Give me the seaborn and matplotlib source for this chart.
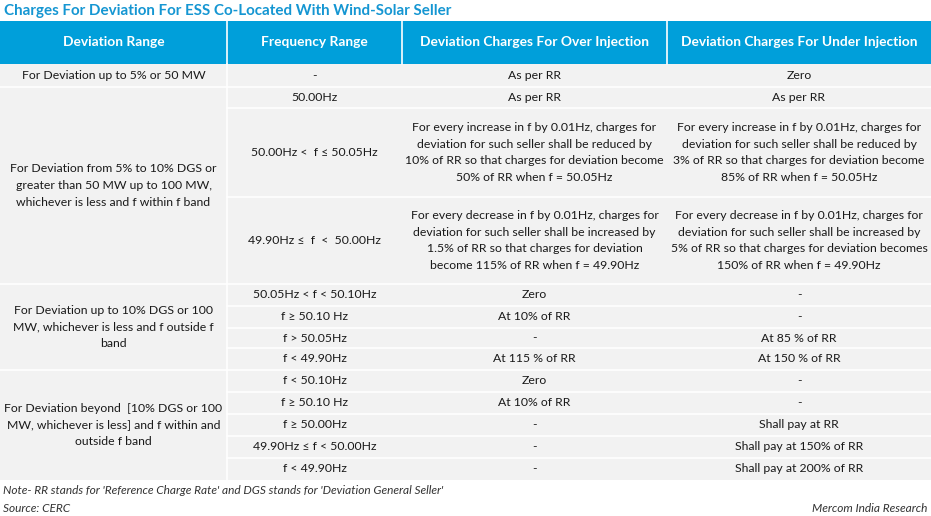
import matplotlib
matplotlib.use('Agg')
import matplotlib.pyplot as plt
import seaborn as sns
from matplotlib.patches import Rectangle
from matplotlib import font_manager

sns.set_theme(style='white')
plt.rcParams['font.family'] = ['Lato', 'DejaVu Sans']

title = 'Charges For Deviation For ESS Co-Located With Wind-Solar Seller'
headers = ['Deviation Range', 'Frequency Range',
           'Deviation Charges For Over Injection', 'Deviation Charges For Under Injection']

# deviation range groups: (label, number of sub rows)
dev_groups = [
    ('For Deviation up to 5% or 50 MW', 1),
    ('For Deviation from 5% to 10% DGS or\ngreater than 50 MW up to 100 MW,\nwhichever is less and f within f band', 3),
    ('For Deviation up to 10% DGS or 100\nMW, whichever is less and f outside f\nband', 4),
    ('For Deviation beyond  [10% DGS or 100\nMW, whichever is less] and f within and\noutside f band', 5),
]
freq_range = ['-', '50.00Hz', '50.00Hz <  f ≤ 50.05Hz', '49.90Hz ≤  f  <  50.00Hz',
              '50.05Hz < f < 50.10Hz', 'f ≥ 50.10 Hz', 'f > 50.05Hz', 'f < 49.90Hz',
              'f < 50.10Hz', 'f ≥ 50.10 Hz', 'f ≥ 50.00Hz', '49.90Hz ≤ f < 50.00Hz', 'f < 49.90Hz']
over_charges = ['As per RR', 'As per RR',
                'For every increase in f by 0.01Hz, charges for\ndeviation for such seller shall be reduced by\n10% of RR so that charges for deviation become\n50% of RR when f = 50.05Hz',
                'For every decrease in f by 0.01Hz, charges for\ndeviation for such seller shall be increased by\n1.5% of RR so that charges for deviation\nbecome 115% of RR when f = 49.90Hz',
                'Zero', 'At 10% of RR', '-', 'At 115 % of RR',
                'Zero', 'At 10% of RR', '-', '-', '-']
under_charges = ['Zero', 'As per RR',
                 'For every increase in f by 0.01Hz, charges for\ndeviation for such seller shall be reduced by\n3% of RR so that charges for deviation become\n85% of RR when f = 50.05Hz',
                 'For every decrease in f by 0.01Hz, charges for\ndeviation for such seller shall be increased by\n5% of RR so that charges for deviation becomes\n150% of RR when f = 49.90Hz',
                 '-', '-', 'At 85 % of RR', 'At 150 % of RR',
                 '-', '-', 'Shall pay at RR', 'Shall pay at 150% of RR', 'Shall pay at 200% of RR']
note = "Note- RR stands for 'Reference Charge Rate' and DGS stands for 'Deviation General Seller'"
source = 'Source: CERC'
credit = 'Mercom India Research'

# layout in pixels
W, H = 931, 516
col_x = [0, 227, 402, 667, 931]
head_top, head_bot = 21, 64
row_y = [64, 87, 108, 197, 284, 306, 328, 348, 370, 392, 414, 436, 458, 480]
blue = '#009FDA'
grey = '#F2F2F2'
txt = '#1a1a1a'
body_fs = 8.8
spacing = 1.62

# narrow italic for footer if available
names = {f.name for f in font_manager.fontManager.ttflist}
foot_family = ['Liberation Sans Narrow', 'Lato'] if 'Liberation Sans Narrow' in names else ['Lato']

fig = plt.figure(figsize=(W / 100, H / 100), dpi=100)
ax = fig.add_axes([0, 0, 1, 1])
ax.set_xlim(0, W)
ax.set_ylim(H, 0)
ax.axis('off')

ax.text(4, 10.5, title, color='#1596D2', fontsize=10.9, fontweight='bold', va='center', ha='left')

# header
ax.add_patch(Rectangle((0, head_top), W, head_bot - head_top, color=blue, lw=0))
for i, h in enumerate(headers):
    cx = (col_x[i] + col_x[i + 1]) / 2
    ax.text(cx, (head_top + head_bot) / 2, h, color='white', fontsize=9.9,
            fontweight='bold', ha='center', va='center')
    if i > 0:
        ax.plot([col_x[i]] * 2, [head_top, head_bot], color='white', lw=1.2)

# body
ax.add_patch(Rectangle((0, row_y[0]), W, row_y[-1] - row_y[0], color=grey, lw=0))
ax.plot([col_x[1]] * 2, [row_y[0], row_y[-1]], color='white', lw=1.2)

r = 0
for label, n in dev_groups:
    y0, y1 = row_y[r], row_y[r + n]
    ax.text((col_x[0] + col_x[1]) / 2, (y0 + y1) / 2, label, color=txt, fontsize=body_fs,
            ha='center', va='center', linespacing=spacing)
    if r + n < len(row_y) - 1:
        ax.plot([col_x[0], col_x[1]], [y1, y1], color='white', lw=1.2)
    r += n

for i in range(len(freq_range)):
    y0, y1 = row_y[i], row_y[i + 1]
    cy = (y0 + y1) / 2
    for j, vals in enumerate([freq_range, over_charges, under_charges], start=1):
        ax.text((col_x[j] + col_x[j + 1]) / 2, cy, vals[i], color=txt, fontsize=body_fs,
                ha='center', va='center', linespacing=spacing)
    if i < len(freq_range) - 1:
        ax.plot([col_x[1], W], [y1, y1], color='white', lw=1.2)

# footer
ax.text(3, 491, note, fontsize=8.6, style='italic', color='#333333', va='center', ha='left',
        family=foot_family)
ax.text(3, 508, source, fontsize=8.6, style='italic', color='#333333', va='center', ha='left',
        family=foot_family)
ax.text(W - 4, 508, credit, fontsize=8.6, style='italic', color='#333333', va='center', ha='right',
        family=foot_family)

fig.savefig('out.png', dpi=100)
